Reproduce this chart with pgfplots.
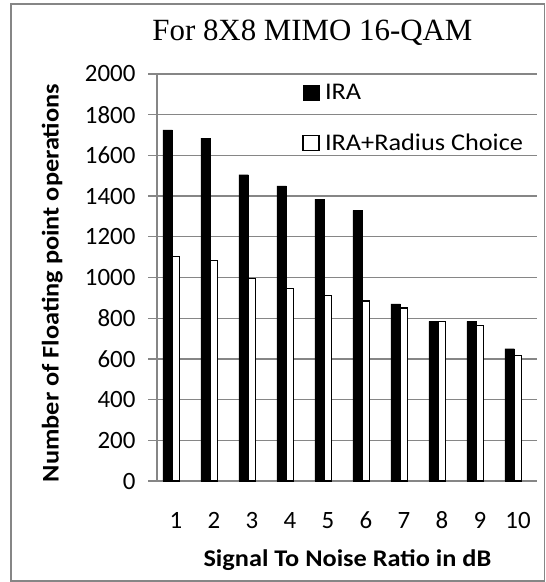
\documentclass[border=0pt]{standalone}
\usepackage{pgfplots}
\pgfplotsset{compat=1.18}
\usepackage{fontspec}
\setmainfont{Carlito}
\newfontfamily\lblfont{Carlito}[FakeStretch=1.1]
\newfontfamily\titlefont{Liberation Serif}
\definecolor{gridgray}{HTML}{868686}
\begin{document}
\begin{tikzpicture}[x=1bp,y=1bp]
\useasboundingbox (0,0) rectangle (546,-582);
\draw[gridgray, line width=1.3bp] (11,-4) rectangle (544.5,-581);
\begin{axis}[
  at={(157bp,-481bp)}, anchor=south west,
  width=380bp, height=407bp, scale only axis,
  xmin=0.5, xmax=10.5, ymin=0, ymax=2000,
  ybar,
  xtick={1,...,10}, ytick={0,200,...,2000},
  axis lines*=left,
  axis line style={gridgray, line width=1.3bp},
  ymajorgrids, grid style={gridgray, line width=1.3bp},
  tick align=outside, major tick length=9bp,
  ytick style={gridgray, line width=1.3bp},
  xtick style={draw=none},
  tick label style={font=\fontsize{25}{29}\selectfont},
  /pgf/number format/assume math mode=true,
  /pgf/number format/1000 sep={},
  yticklabel style={anchor=east, xshift=-9bp},
  xticklabel style={anchor=base, yshift=-38bp},
  title={\titlefont For 8X8 MIMO 16-QAM},
  title style={at={(axis description cs:0.409,1)}, anchor=base, yshift=28bp, font=\fontsize{31}{35}\selectfont},
  xlabel={\lblfont\bfseries Signal To Noise Ratio in dB},
  xlabel style={at={(axis description cs:0.501,0)}, anchor=base, yshift=-85.5bp, font=\fontsize{24}{28}\selectfont},
  ylabel={\lblfont\bfseries Number of Floating point operations},
  ylabel style={at={(axis description cs:-0.2592,0.4865)}, anchor=base, rotate=0, font=\fontsize{24}{28}\selectfont},
  legend style={at={(axis description cs:0.382,0.982)}, anchor=north west, draw=none, fill=none,
    font=\lblfont\fontsize{24}{28}\selectfont, row sep=28bp, inner sep=0pt, nodes={inner sep=2.5bp}},
  legend cell align=left,
  legend image code/.code={\draw[#1] (0bp,-7.5bp) rectangle (16bp,7.5bp);},
]
\addplot[fill=black, draw=black, bar width=9.5bp, bar shift=-8.3bp] coordinates {
(1,1725) (2,1685) (3,1505) (4,1450) (5,1385) (6,1330) (7,870) (8,785) (9,785) (10,650)};
\addlegendentry{\hspace{3bp}IRA}
\addplot[fill=white, draw=black, line width=1.2bp, bar width=7bp, bar shift=0.35bp] coordinates {
(1,1105) (2,1085) (3,995) (4,945) (5,910) (6,885) (7,850) (8,783) (9,765) (10,615)};
\addlegendentry{\hspace{3bp}IRA+Radius Choice}
\end{axis}
\end{tikzpicture}
\end{document}
